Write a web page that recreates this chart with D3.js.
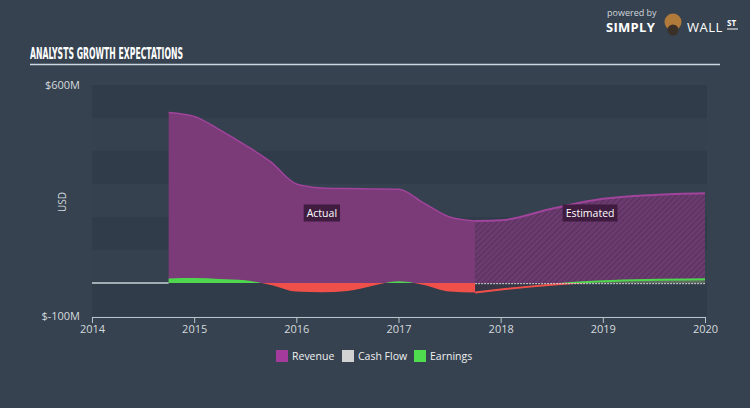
<!DOCTYPE html>
<html><head><meta charset="utf-8">
<script src="https://cdn.jsdelivr.net/npm/d3@7"></script>
<style>
html,body{margin:0;padding:0;background:#36424f;}
svg{display:block;}
text{font-family:"Open Sans","DejaVu Sans",sans-serif;}
</style></head>
<body>
<svg id="c" width="750" height="408"></svg>
<script>
// ---- data ----
const xTicks = [2014, 2015, 2016, 2017, 2018, 2019, 2020];
const yTickLabels = ["$600M", "$-100M"];
const yTickValues = [600, -100];
const revenueActualT = [2014.75, 2015.0, 2015.25, 2015.5, 2015.75, 2016.0, 2016.25, 2016.5, 2016.75, 2017.0, 2017.25, 2017.5, 2017.75];
const revenueActualV = [517, 505, 464, 418, 367, 300, 288, 286, 285, 284, 242, 200, 188];
const revenueEstT = [2017.75, 2018.0, 2018.5, 2019.0, 2019.5, 2020.0];
const revenueEstV = [188, 190, 225, 255, 267, 272];
const earningsActualT = [2014.75, 2015.0, 2015.25, 2015.5, 2015.75, 2016.0, 2016.25, 2016.5, 2016.75, 2017.0, 2017.25, 2017.5, 2017.75];
const earningsActualV = [14, 15, 12, 8, -6, -26, -28, -24, -8, 5, -6, -26, -29];
const earningsEstT = [2017.75, 2018.0, 2019.0, 2020.0];
const earningsEstV = [-29, -20, 5, 11];
const cashFlowT = [2014.0, 2014.75];
const cashFlowV = [0, 0];
const cashFlowEstT = [2017.75, 2020.0];
const cashFlowEstV = [-2, -2];
const legendItems = ["Revenue", "Cash Flow", "Earnings"];
const legendColors = ["#a43a9b", "#d2d2d2", "#4fdc4f"];

const svg = d3.select("#c");
const defs = svg.append("defs");

// scales
const x = d3.scaleLinear().domain([2014, 2020]).range([92, 705]);
const y = d3.scaleLinear().domain([-100, 600]).range([316, 85]);

// background bands
const bands = d3.range(600, -100, -100);
svg.append("g").selectAll("rect").data(bands).join("rect")
  .attr("x", 92).attr("width", 615)
  .attr("y", d => y(d)).attr("height", d => y(d - 100) - y(d))
  .attr("fill", (d, i) => i % 2 === 0 ? "#303c4a" : "#35414f");

// title
svg.append("text").attr("x", 30).attr("y", 59)
  .attr("fill", "#ffffff")
  .attr("textLength", 153).attr("lengthAdjust", "spacingAndGlyphs")
  .style("font-family", "'DejaVu Sans Condensed','DejaVu Sans',sans-serif")
  .style("font-weight", "bold").style("font-size", "15.5px")
  .text("ANALYSTS GROWTH EXPECTATIONS");
svg.append("line").attr("x1", 30).attr("x2", 720).attr("y1", 64.5).attr("y2", 64.5)
  .attr("stroke", "#c9d9e2").attr("stroke-width", 1.5);

// logo
const logo = svg.append("g");
logo.append("text").attr("x", 607).attr("y", 16).attr("fill", "#d0d6dc").style("font-size", "9px").text("powered by");
logo.append("text").attr("x", 606).attr("y", 32).attr("fill", "#ffffff").style("font-weight", "bold").style("font-size", "13px").style("letter-spacing", "0.3px").text("SIMPLY");
logo.append("circle").attr("cx", 673).attr("cy", 22).attr("r", 8.5).attr("fill", "#b07a3a");
logo.append("circle").attr("cx", 673).attr("cy", 30).attr("r", 5.5).attr("fill", "#3a3028");
logo.append("text").attr("x", 687).attr("y", 32).attr("fill", "#ffffff").style("font-size", "13px").style("letter-spacing", "0.5px").text("WALL");
logo.append("text").attr("x", 727).attr("y", 26).attr("fill", "#ffffff").style("font-weight", "bold").style("font-size", "8px").text("ST");
logo.append("line").attr("x1", 727).attr("x2", 738).attr("y1", 29).attr("y2", 29).attr("stroke", "#fff").attr("stroke-width", 1);

// hatch pattern
const pat = defs.append("pattern").attr("id", "hatch").attr("patternUnits", "userSpaceOnUse")
  .attr("width", 4).attr("height", 4).attr("patternTransform", "rotate(45)");
pat.append("rect").attr("width", 4).attr("height", 4).attr("fill", "#6b3a6e");
pat.append("line").attr("x1", 0).attr("y1", 0).attr("x2", 0).attr("y2", 4).attr("stroke", "#4e2d55").attr("stroke-width", 1.4);

// clip paths for earnings sign
defs.append("clipPath").attr("id", "pos").append("rect").attr("x", 0).attr("y", 0).attr("width", 750).attr("height", y(0));
defs.append("clipPath").attr("id", "neg").append("rect").attr("x", 0).attr("y", y(0)).attr("width", 750).attr("height", 408 - y(0));

const curve = d3.curveMonotoneX;
const zipT = (t, v) => t.map((d, i) => [d, v[i]]);
const area = d3.area().x(d => x(d[0])).y0(y(0)).y1(d => y(d[1])).curve(curve);
const line = d3.line().x(d => x(d[0])).y(d => y(d[1])).curve(curve);

const revA = zipT(revenueActualT, revenueActualV);
const revE = zipT(revenueEstT, revenueEstV);
svg.append("path").attr("d", area(revA)).attr("fill", "#7b3a78");
svg.append("path").attr("d", area(revE)).attr("fill", "url(#hatch)");
svg.append("path").attr("d", line(revA)).attr("fill", "none").attr("stroke", "#a0449c").attr("stroke-width", 1.5);
svg.append("path").attr("d", line(revE)).attr("fill", "none").attr("stroke", "#a0449c").attr("stroke-width", 2);

// cash flow
svg.append("path").attr("d", line(zipT(cashFlowT, cashFlowV))).attr("fill", "none").attr("stroke", "#c8d0d6").attr("stroke-width", 1.5);

// earnings
const earnA = zipT(earningsActualT, earningsActualV);
const earnE = zipT(earningsEstT, earningsEstV);
svg.append("path").attr("d", area(earnA)).attr("fill", "#4fd64f").attr("clip-path", "url(#pos)");
svg.append("path").attr("d", area(earnA)).attr("fill", "#f0504a").attr("clip-path", "url(#neg)");
svg.append("path").attr("d", area(earnE)).attr("fill", "#4fd64f").attr("opacity", 0.35).attr("clip-path", "url(#pos)");
svg.append("path").attr("d", area(earnE)).attr("fill", "#3a3545").attr("opacity", 0.8).attr("clip-path", "url(#neg)");
svg.append("path").attr("d", line(earnE)).attr("fill", "none").attr("stroke", "#4fd64f").attr("stroke-width", 2).attr("clip-path", "url(#pos)");
svg.append("path").attr("d", line(earnE)).attr("fill", "none").attr("stroke", "#f0504a").attr("stroke-width", 2).attr("clip-path", "url(#neg)");
svg.append("path").attr("d", line(zipT(cashFlowEstT, cashFlowEstV))).attr("fill", "none").attr("stroke", "#d8d8d8").attr("stroke-width", 1).attr("stroke-dasharray", "2,1");

// labels Actual / Estimated
function tag(cx, cy, txt) {
  const g = svg.append("g");
  const t = g.append("text").attr("x", cx).attr("y", cy + 4).attr("text-anchor", "middle")
    .attr("fill", "#ffffff").style("font-size", "10.5px").text(txt);
  const bb = t.node().getBBox();
  g.insert("rect", "text").attr("x", bb.x - 3).attr("y", cy - 8.5).attr("width", bb.width + 6).attr("height", 17)
    .attr("fill", "#3b1a3b").attr("opacity", 0.9);
}
tag((x(revenueActualT[0]) + x(revenueActualT[revenueActualT.length - 1])) / 2 , 213, "Actual");
tag((x(revenueEstT[0]) + x(revenueEstT[revenueEstT.length - 1])) / 2, 213, "Estimated");

// y labels
svg.append("g").selectAll("text").data(yTickValues).join("text")
  .attr("x", 80).attr("y", d => y(d) + 4).attr("text-anchor", "end")
  .attr("fill", "#d4dade").style("font-size", "11px")
  .text((d, i) => yTickLabels[i]);
svg.append("text").attr("transform", "translate(66,202) rotate(-90)").attr("text-anchor", "middle")
  .attr("fill", "#d4dade").style("font-size", "10px").text("USD");

// x axis
const xAxis = d3.axisBottom(x).tickValues(xTicks).tickFormat(d3.format("d")).tickSize(6).tickSizeOuter(0);
const gx = svg.append("g").attr("transform", "translate(0,317)").call(xAxis);
gx.select(".domain").attr("stroke", "#b8c4cc");
gx.selectAll(".tick line").attr("stroke", "#b8c4cc");
gx.selectAll(".tick text").attr("fill", "#d4dade").style("font-size", "11px").attr("y", 8).attr("dy", "0.71em");

// legend
const lg = svg.append("g");
const lx = [276, 342, 414];
legendItems.forEach((name, i) => {
  lg.append("rect").attr("x", lx[i]).attr("y", 350).attr("width", 12).attr("height", 12).attr("fill", legendColors[i]);
  lg.append("text").attr("x", lx[i] + 16).attr("y", 360).attr("fill", "#eef0f2").style("font-size", "10.5px").text(name);
});
</script>
</body></html>
